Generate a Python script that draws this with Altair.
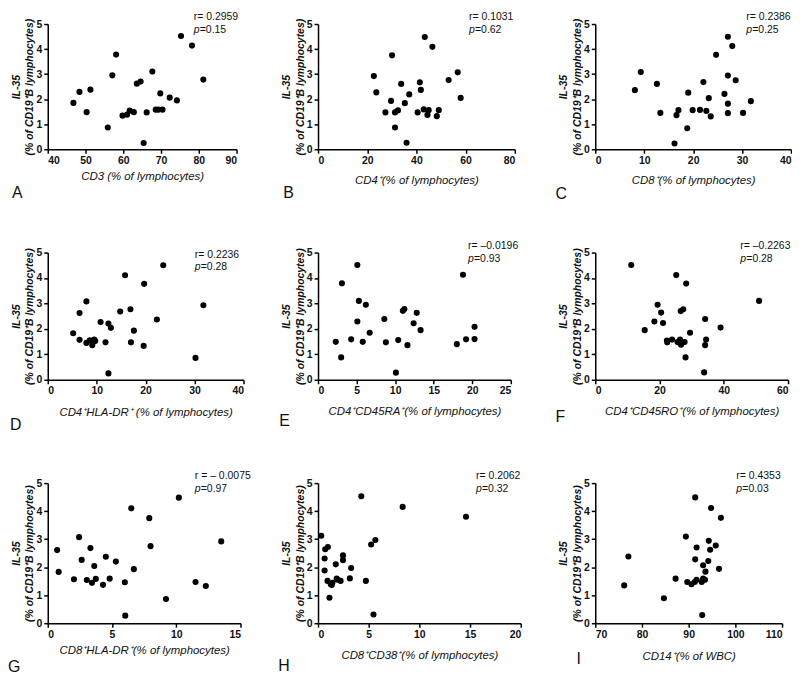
import altair as alt
import pandas as pd

FONT = "Liberation Sans"
Y_TITLE = ["IL-35", "(% of CD19⁺B lymphocytes)"]

# ---- data ----
a_x = [46.8, 48.4, 50.3, 51.3, 55.9, 57.1, 58.1, 59.8, 61.0, 61.7, 62.8, 63.6, 64.6, 65.4, 66.2, 67.7, 68.6, 69.3, 69.8, 70.4, 72.3, 74.2, 75.3, 78.2, 81.2]
a_y = [1.85, 2.29, 1.48, 2.38, 0.87, 2.95, 3.78, 1.34, 1.38, 1.54, 1.48, 2.62, 2.70, 0.25, 1.47, 3.10, 1.58, 1.58, 2.23, 1.58, 2.06, 1.95, 4.52, 4.14, 2.78]

b_x = [22.7, 23.7, 27.4, 29.7, 30.1, 31.3, 31.3, 32.5, 33.8, 35.3, 36.0, 37.1, 40.5, 41.4, 41.8, 43.0, 43.4, 44.5, 45.0, 46.5, 48.3, 49.1, 53.1, 56.8, 58.0]
b_y = [2.92, 2.27, 1.47, 1.93, 3.75, 1.47, 0.87, 1.55, 2.61, 1.84, 0.26, 2.19, 1.47, 2.67, 2.37, 1.59, 4.48, 1.37, 1.56, 4.09, 1.32, 1.56, 2.76, 3.07, 2.05]

c_x = [8.1, 9.3, 12.6, 13.3, 16.2, 16.6, 17.0, 18.8, 19.0, 19.9, 21.4, 22.1, 22.7, 23.2, 23.6, 24.7, 26.4, 27.1, 27.1, 27.1, 27.1, 28.0, 28.7, 30.2, 31.8]
c_y = [2.36, 3.08, 2.61, 1.45, 0.23, 1.36, 1.56, 0.84, 2.26, 1.56, 1.57, 2.68, 1.53, 2.04, 1.31, 3.77, 2.21, 4.49, 2.94, 1.82, 1.44, 4.12, 2.75, 1.45, 1.92]

d_x = [5.2, 6.5, 6.5, 7.9, 7.9, 8.6, 9.1, 9.5, 9.7, 10.8, 11.8, 12.4, 12.4, 12.9, 14.8, 15.8, 16.9, 17.0, 17.6, 19.7, 19.6, 22.3, 23.6, 30.2, 31.8]
d_y = [1.83, 2.62, 1.57, 3.08, 1.45, 1.55, 1.36, 1.58, 1.52, 2.27, 1.47, 0.25, 2.21, 2.04, 2.68, 4.11, 2.77, 1.47, 1.93, 3.77, 1.33, 2.37, 4.50, 0.86, 2.93]

e_x = [2.3, 3.0, 3.1, 4.3, 5.1, 5.1, 5.3, 5.8, 6.2, 6.7, 8.6, 8.8, 10.1, 10.4, 11.0, 11.2, 11.6, 12.4, 12.8, 13.3, 18.0, 18.8, 19.2, 20.3, 20.3]
e_y = [1.49, 0.88, 3.79, 1.59, 4.51, 2.29, 3.10, 1.49, 2.95, 1.85, 2.39, 1.47, 0.28, 1.56, 2.71, 2.78, 1.36, 2.22, 2.63, 1.95, 1.40, 4.13, 1.59, 2.08, 1.60]

f_x = [11.2, 15.4, 18.4, 19.4, 20.5, 21.1, 22.3, 22.4, 23.9, 25.2, 25.6, 26.4, 26.6, 26.7, 27.4, 27.8, 28.1, 28.3, 29.5, 33.9, 34.2, 34.2, 34.5, 39.0, 51.0]
f_y = [4.51, 1.95, 2.29, 2.95, 2.64, 2.23, 1.54, 1.47, 1.58, 4.12, 1.48, 1.58, 2.70, 1.38, 2.77, 1.48, 0.88, 3.78, 1.85, 0.29, 2.39, 1.36, 1.58, 2.05, 3.10]

g_x = [0.73, 0.85, 2.04, 2.44, 2.64, 3.04, 3.32, 3.44, 3.62, 3.74, 4.30, 4.52, 4.82, 5.30, 6.0, 6.03, 6.5, 6.7, 7.9, 8.0, 9.2, 10.2, 11.5, 12.3, 13.5]
g_y = [2.61, 1.83, 1.57, 3.07, 2.26, 1.54, 2.68, 1.44, 2.04, 1.58, 1.37, 2.37, 1.59, 2.20, 1.46, 0.27, 4.10, 1.93, 3.75, 2.75, 0.86, 4.48, 1.47, 1.33, 2.92]

h_x = [0.32, 0.71, 0.97, 0.65, 0.65, 0.94, 1.26, 1.42, 1.13, 1.75, 1.84, 2.23, 2.46, 2.46, 3.27, 3.14, 4.72, 5.24, 5.66, 5.47, 4.27, 8.35, 14.6, 1.35, 1.95]
h_y = [3.12, 2.64, 2.72, 2.31, 1.88, 1.51, 1.39, 1.44, 0.91, 2.10, 1.59, 1.51, 2.42, 2.25, 1.97, 1.60, 1.51, 2.81, 2.97, 0.31, 4.53, 4.15, 3.80, 1.36, 1.55]

i_x = [76.2, 77.1, 84.7, 87.2, 89.4, 89.7, 90.6, 91.3, 91.4, 91.4, 91.7, 91.7, 92.8, 92.9, 93.1, 93.1, 93.5, 93.6, 94.2, 94.3, 94.6, 94.8, 95.8, 96.5, 96.9]
i_y = [1.35, 2.38, 0.89, 1.59, 3.09, 1.47, 1.39, 1.47, 4.49, 2.28, 2.70, 1.55, 1.47, 0.29, 2.07, 1.59, 1.55, 1.84, 2.22, 2.94, 2.62, 4.11, 2.77, 1.94, 3.76]

x_titles = ["CD3 (% of lymphocytes)", "CD4⁺(% of lymphocytes)", "CD8⁺(% of lymphocytes)",
            "CD4⁺HLA-DR⁺ (% of lymphocytes)", "CD4⁺CD45RA⁺(% of lymphocytes)", "CD4⁺CD45RO⁺(% of lymphocytes)",
            "CD8⁺HLA-DR⁺(% of lymphocytes)", "CD8⁺CD38⁺(% of lymphocytes)", "CD14⁺(% of WBC)"]
x_domains = [[40, 90], [0, 80], [0, 40], [0, 40], [0, 25], [0, 60], [0, 15], [0, 20], [70, 110]]
x_ticks = [[40, 50, 60, 70, 80, 90], [0, 20, 40, 60, 80], [0, 10, 20, 30, 40],
           [0, 10, 20, 30, 40], [0, 5, 10, 15, 20, 25], [0, 20, 40, 60],
           [0, 5, 10, 15], [0, 5, 10, 15, 20], [70, 80, 90, 100, 110]]
r_texts = ["r= 0.2959", "r= 0.1031", "r= 0.2386", "r= 0.2236", "r= –0.0196", "r= –0.2263",
           "r = – 0.0075", "r= 0.2062", "r= 0.4353"]
p_texts = ["=0.15", "=0.62", "=0.25", "=0.28", "=0.93", "=0.28", "=0.97", "=0.32", "=0.03"]
letters = ["A", "B", "C", "D", "E", "F", "G", "H", "I"]
xs = [a_x, b_x, c_x, d_x, e_x, f_x, g_x, h_x, i_x]
ys = [a_y, b_y, c_y, d_y, e_y, f_y, g_y, h_y, i_y]

# ---- layout (sizes / offsets per panel) ----
widths = [190, 198, 197, 197, 194, 194, 194, 204, 188]
heights = [126, 126, 126, 128, 128, 128, 141, 141, 141]
r_dx = [-43, -46, -45, -49, -43, -48, -46, -45, -46]
r_dy = [-7, -7, -7, 2, -7, -7, -7, -7, -7]
x_tpad = [5, 9, 9, 10, 9, 9, 5, 10, 11]
let_dx = [-36, -35, -40, -38, -39, -40, -40, -40, -19]
let_dy = [44, 44, 45, 46, 42, 38, 44, 43, 36]


def panel(k):
    w, h = widths[k], heights[k]
    df = pd.DataFrame({"x": xs[k], "y": ys[k]})
    pts = alt.Chart(df).mark_circle(size=38, color="black", opacity=1).encode(
        x=alt.X("x:Q",
                scale=alt.Scale(domain=x_domains[k], nice=False, zero=False),
                axis=alt.Axis(values=x_ticks[k], title=x_titles[k], titlePadding=x_tpad[k])),
        y=alt.Y("y:Q",
                scale=alt.Scale(domain=[0, 5], nice=False, zero=True),
                axis=alt.Axis(values=[0, 1, 2, 3, 4, 5], title=Y_TITLE)),
    )
    one = pd.DataFrame({"r": [r_texts[k]], "p": ["p"], "pv": [p_texts[k]], "L": [letters[k]]})
    tb = alt.Chart(one)
    rx = w + r_dx[k]
    rt = tb.mark_text(align="left", baseline="middle", font=FONT, fontSize=10.5, color="#111").encode(
        x=alt.value(rx), y=alt.value(r_dy[k]), text="r:N")
    pt = tb.mark_text(align="left", baseline="middle", font=FONT, fontSize=10.5, fontStyle="italic", color="#111").encode(
        x=alt.value(rx), y=alt.value(r_dy[k] + 13), text="p:N")
    pv = tb.mark_text(align="left", baseline="middle", font=FONT, fontSize=10.5, color="#111").encode(
        x=alt.value(rx + 6), y=alt.value(r_dy[k] + 13), text="pv:N")
    lt = tb.mark_text(align="left", baseline="middle", font=FONT, fontSize=16, color="#111").encode(
        x=alt.value(let_dx[k]), y=alt.value(h + let_dy[k]), text="L:N")
    return alt.layer(pts, rt, pt, pv, lt).properties(width=w, height=h)


chart = alt.concat(
    *[panel(k) for k in range(9)],
    columns=3, spacing={"row": 104, "column": 75}, bounds="flush", align="none",
).properties(
    padding={"left": 0, "top": 2, "right": 0, "bottom": 0}
).configure_view(strokeWidth=0).configure_axis(
    grid=False,
    domainColor="black", domainWidth=1.5,
    tickColor="black", tickWidth=1.5, tickSize=4,
    labelFont=FONT, labelFontSize=10.5, labelFontWeight="bold", labelColor="#111", labelPadding=2,
    titleFont=FONT, titleColor="#111", titleFontStyle="italic",
).configure_axisY(
    titleFontSize=10.5, titleFontWeight="bold", titlePadding=1, titleLineHeight=14,
).configure_axisX(
    titleFontSize=11.5, titleFontWeight="normal",
)

chart.save("out.html", embed_options={"renderer": "svg", "actions": False})
